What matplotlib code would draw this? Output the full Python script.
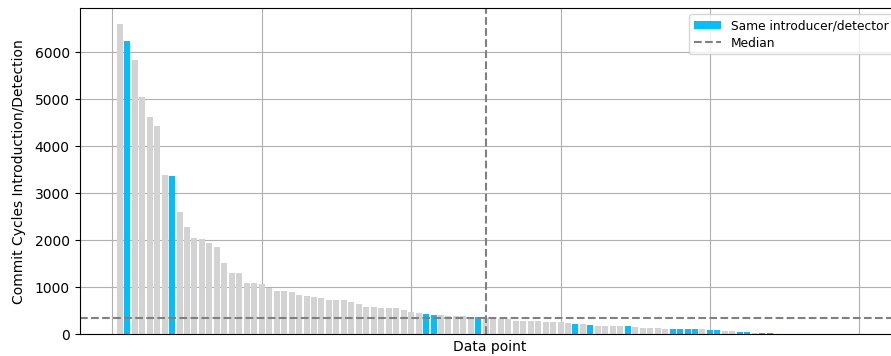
import numpy as np
import matplotlib
matplotlib.use("Agg")
import matplotlib.pyplot as plt

# Commit cycles between introduction and detection, sorted descending
cycles = [
    6600, 6230, 5840, 5050, 4625, 4420, 3390, 3365, 2600, 2275,
    2045, 2025, 1945, 1850, 1510, 1305, 1305, 1100, 1100, 1075,
    985, 920, 920, 900, 840, 812, 790, 766, 722, 722,
    722, 677, 634, 587, 587, 563, 563, 563, 514, 468,
    447, 430, 414, 411, 386, 386, 386, 372, 365, 350,
    330, 319, 315, 290, 280, 277, 277, 270, 255, 255,
    250, 219, 219, 198, 177, 177, 177, 177, 177, 155,
    134, 134, 134, 113, 113, 113, 113, 113, 113, 91,
    91, 70, 70, 49, 49, 28, 28, 28, 10, 10,
    2, 2, 1, 1, 1, 1, 1, 1, 1, 0,
]

# 1-based positions of data points where the introducer is also the detector
same_person = [2, 8, 42, 43, 49, 62, 64, 69, 75, 76, 77, 78,
               80, 81, 84, 85, 87, 88, 90]

values = np.array(cycles, dtype=float)
n = len(values)
positions = np.arange(1, n + 1)
is_same = np.isin(positions, same_person)
median = np.median(values)

fig = plt.figure(figsize=(8.91, 3.56), dpi=100)
ax = fig.add_axes([79.5 / 891, 21.7 / 356, 820.1 / 891, 326.0 / 356])

ax.bar(positions[~is_same], values[~is_same], width=0.8, color="lightgray")
same_bars = ax.bar(positions[is_same], values[is_same], width=0.8,
                   color="deepskyblue", label="Same introducer/detector")
median_line = ax.axhline(median, color="gray", linestyle="--", linewidth=1.5,
                         label="Median")
ax.axvline(n / 2, color="gray", linestyle="--", linewidth=1.5)

ax.set_axisbelow(True)
ax.grid(True)
ax.tick_params(axis="x", length=0, labelbottom=False)
ax.set_xlabel("Data point")
ax.set_ylabel("Commit Cycles Introduction/Detection", labelpad=6)
ax.legend(handles=[same_bars, median_line], loc="upper right",
          fontsize=8.8, handlelength=2.2, labelspacing=0.35)

fig.savefig("out.png", dpi=100)
